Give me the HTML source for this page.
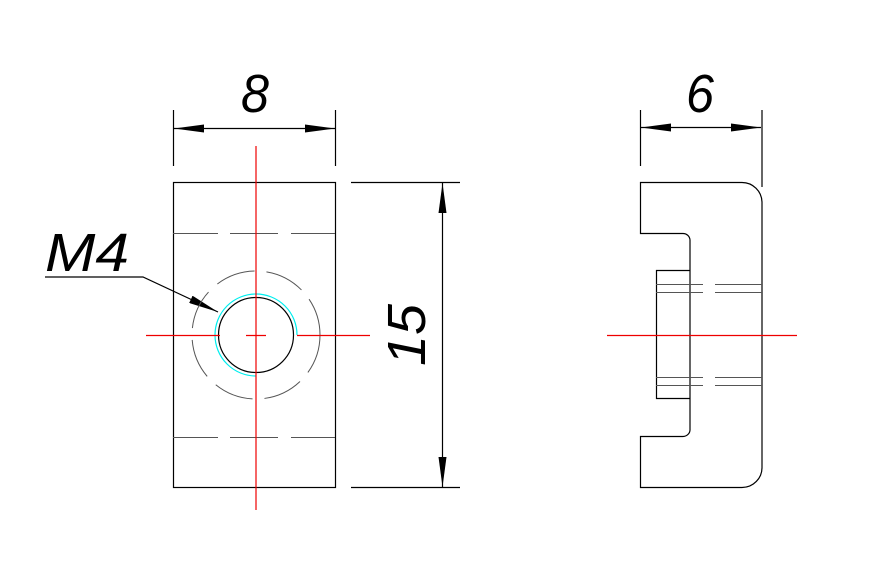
<!DOCTYPE html>
<html><head><style>html,body{margin:0;padding:0;background:#fff}svg{display:block}</style></head>
<body>
<svg width="871" height="577" viewBox="0 0 871 577" xmlns="http://www.w3.org/2000/svg" font-family="Liberation Sans, sans-serif">
<defs>
<marker id="a" viewBox="0 0 30 8" refX="30" refY="4" markerWidth="30" markerHeight="8" markerUnits="userSpaceOnUse" orient="auto-start-reverse"><path d="M0,0 L30,4 L0,8 z" fill="#000"/></marker>
</defs>
<g fill="none" stroke="#000" stroke-width="1.2">
<rect x="173.5" y="182.5" width="162" height="305"/>
<line x1="173.5" y1="110" x2="173.5" y2="166"/>
<line x1="335.5" y1="110" x2="335.5" y2="166"/>
<line x1="174" y1="128.5" x2="335" y2="128.5" marker-start="url(#a)" marker-end="url(#a)"/>
<line x1="351" y1="182.5" x2="460" y2="182.5"/>
<line x1="351" y1="487.5" x2="460" y2="487.5"/>
<line x1="442.5" y1="183" x2="442.5" y2="487" marker-start="url(#a)" marker-end="url(#a)"/>
<circle cx="256" cy="335" r="37.5"/>
<polyline points="45,277 143,277 218,312" marker-end="url(#a)"/>
<path d="M640.5,182.5 H742 A20,20 0 0 1 762,202 V467 A20,20 0 0 1 742,487.5 H640.5 V436.5 H683 A7,7 0 0 0 690,429 V240 A7,7 0 0 0 683,233.5 H640.5 Z"/>
<path d="M690,270.5 H656.5 V398.5 H690"/>
<line x1="640.5" y1="110" x2="640.5" y2="166"/>
<line x1="762" y1="110" x2="762" y2="187"/>
<line x1="641" y1="127.5" x2="761" y2="127.5" marker-start="url(#a)" marker-end="url(#a)"/>
</g>
<g fill="none" stroke="#555" stroke-width="1">
<path d="M173,233.5 H218 M230,233.5 H278 M291,233.5 H335" />
<path d="M173,437.5 H218 M230,437.5 H278 M291,437.5 H335" />
<circle cx="256" cy="335" r="64" stroke-dasharray="40,12"/>
<path d="M656,284.5 H703 M715,284.5 H762 M656,292.5 H703 M715,292.5 H762 M656,377.5 H703 M715,377.5 H762 M656,385.5 H703 M715,385.5 H762"/>
</g>
<path d="M297,335 A41,41 0 1 0 256,376" fill="none" stroke="#0ee" stroke-width="1.2"/>
<g stroke="#e00" stroke-width="1.2" fill="none">
<line x1="256" y1="146" x2="256" y2="510"/>
<line x1="146" y1="335.5" x2="220" y2="335.5"/>
<line x1="246" y1="335.5" x2="266" y2="335.5"/>
<line x1="297" y1="335.5" x2="370" y2="335.5"/>
<line x1="607" y1="335.5" x2="797" y2="335.5"/>
</g>
<g fill="#000" font-style="italic" font-size="54">
<text x="255" y="112" text-anchor="middle" textLength="28" lengthAdjust="spacingAndGlyphs">8</text>
<text x="700" y="112" text-anchor="middle" textLength="28" lengthAdjust="spacingAndGlyphs">6</text>
<text x="45" y="271" textLength="84" lengthAdjust="spacingAndGlyphs">M4</text>
<text transform="translate(425,335) rotate(-90)" text-anchor="middle" textLength="62" lengthAdjust="spacingAndGlyphs">15</text>
</g>
</svg>
</body></html>
